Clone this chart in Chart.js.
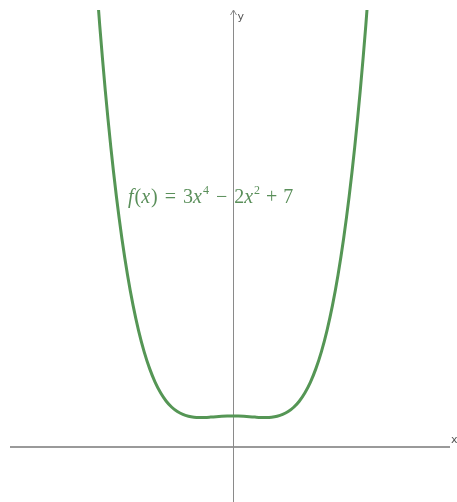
<!DOCTYPE html>
<html>
<head>
<meta charset="utf-8">
<script src="https://cdn.jsdelivr.net/npm/chart.js@4"></script>
<style>
  html, body { margin: 0; padding: 0; background: #fff; }
  #wrap { width: 457px; height: 502px; position: relative; }
</style>
</head>
<body>
<div id="wrap"><canvas id="plot"></canvas></div>
<script>
// f(x) = 3x^4 - 2x^2 + 7
const xValues = [
  -2.5, -2.4, -2.3, -2.2, -2.1, -2.0, -1.9, -1.8, -1.7, -1.6, -1.5, -1.4, -1.3,
  -1.2, -1.1, -1.0, -0.9, -0.8, -0.7, -0.6, -0.5, -0.4, -0.3, -0.2, -0.1, 0,
  0.1, 0.2, 0.3, 0.4, 0.5, 0.6, 0.7, 0.8, 0.9, 1.0, 1.1, 1.2, 1.3,
  1.4, 1.5, 1.6, 1.7, 1.8, 1.9, 2.0, 2.1, 2.2, 2.3, 2.4, 2.5
];
const yValues = [
  111.69, 95.01, 80.37, 67.60, 56.52, 47.00, 38.88, 32.01, 26.28, 21.54, 17.69, 14.60, 12.19,
  10.34, 8.97, 8.00, 7.35, 6.95, 6.74, 6.67, 6.69, 6.76, 6.84, 6.92, 6.98, 7.00,
  6.98, 6.92, 6.84, 6.76, 6.69, 6.67, 6.74, 6.95, 7.35, 8.00, 8.97, 10.34, 12.19,
  14.60, 17.69, 21.54, 26.28, 32.01, 38.88, 47.00, 56.52, 67.60, 80.37, 95.01, 111.69
];
const xRange = [-4.02, 3.92];
const yRange = [-12.4, 98.6];
const axisLabels = ['x', 'y'];

const points = xValues.map((x, i) => ({ x: x, y: yValues[i] }));

// ejes estilo GeoGebra + rótulo de la función
const axesPlugin = {
  id: 'axes',
  beforeDatasetsDraw(chart) {
    const { ctx, chartArea: a, scales } = chart;
    const x0 = Math.round(scales.x.getPixelForValue(0)) + 0.5;
    const y0 = Math.round(scales.y.getPixelForValue(0));
    ctx.save();
    ctx.strokeStyle = '#9a9a9a';
    ctx.lineWidth = 2;
    ctx.beginPath();
    ctx.moveTo(a.left, y0);
    ctx.lineTo(a.right, y0);
    ctx.stroke();
    ctx.strokeStyle = '#8a8a8a';
    ctx.lineWidth = 1;
    ctx.beginPath();
    ctx.moveTo(x0, a.bottom);
    ctx.lineTo(x0, a.top);
    ctx.stroke();
    // flecha del eje y
    ctx.beginPath();
    ctx.moveTo(x0 - 3, a.top + 5);
    ctx.lineTo(x0, a.top);
    ctx.lineTo(x0 + 3, a.top + 5);
    ctx.stroke();
    ctx.fillStyle = '#555';
    ctx.font = '11px "DejaVu Sans", sans-serif';
    ctx.textBaseline = 'alphabetic';
    ctx.fillText(axisLabels[0], a.right + 1, y0 - 4);
    ctx.fillText(axisLabels[1], x0 + 4, a.top + 10);
    ctx.restore();
  },
  afterDatasetsDraw(chart) {
    const { ctx } = chart;
    // [texto, estilo, superíndice, espacio después]
    const parts = [
      ['f', 'italic', 0, 1], ['(', '', 0, 0], ['x', 'italic', 0, 1], [')', '', 0, 7],
      ['=', '', 0, 7], ['3', '', 0, 0], ['x', 'italic', 0, 1], ['4', '', 1, 7],
      ['−', '', 0, 7], ['2', '', 0, 0], ['x', 'italic', 0, 1], ['2', '', 1, 6],
      ['+', '', 0, 6], ['7', '', 0, 0]
    ];
    let px = 128;
    const base = 203;
    ctx.save();
    ctx.fillStyle = '#5a8f5a';
    ctx.textBaseline = 'alphabetic';
    parts.forEach(([t, style, sup, gap]) => {
      const size = sup ? 12 : 20;
      ctx.font = `${style} ${size}px "Liberation Serif", "DejaVu Serif", serif`;
      ctx.fillText(t, px, sup ? base - 9 : base);
      px += ctx.measureText(t).width + gap;
    });
    ctx.restore();
  }
};

new Chart(document.getElementById('plot'), {
  type: 'scatter',
  data: {
    datasets: [{
      data: points,
      showLine: true,
      borderColor: '#559655',
      borderWidth: 3,
      pointRadius: 0,
      tension: 0.3,
      fill: false
    }]
  },
  options: {
    responsive: true,
    maintainAspectRatio: false,
    animation: false,
    layout: { padding: { left: 10, right: 7, top: 10, bottom: 0 } },
    plugins: { legend: { display: false }, tooltip: { enabled: false } },
    scales: {
      x: { type: 'linear', min: xRange[0], max: xRange[1], display: false },
      y: { type: 'linear', min: yRange[0], max: yRange[1], display: false }
    }
  },
  plugins: [axesPlugin]
});
</script>
</body>
</html>
